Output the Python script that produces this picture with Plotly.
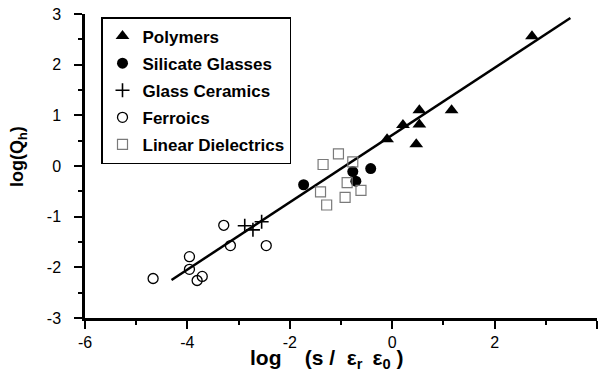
import plotly.graph_objects as go

# Data
poly_x = [0.53, 1.16, 0.21, 0.53, -0.10, 0.47, 2.73]
poly_y = [1.10, 1.10, 0.81, 0.82, 0.53, 0.43, 2.56]

silicate_x = [-1.73, -0.77, -0.71, -0.42]
silicate_y = [-0.37, -0.11, -0.30, -0.05]

ceramic_x = [-2.88, -2.72, -2.55]
ceramic_y = [-1.18, -1.26, -1.10]

ferro_x = [-3.29, -3.16, -2.46, -3.96, -3.96, -4.67, -3.71, -3.81]
ferro_y = [-1.17, -1.57, -1.57, -1.79, -2.04, -2.22, -2.18, -2.26]

lin_x = [-1.05, -1.35, -0.77, -0.88, -0.61, -1.40, -0.92, -1.28]
lin_y = [0.24, 0.03, 0.08, -0.33, -0.48, -0.51, -0.62, -0.77]

fit_x = [-4.31, 3.48]
fit_y = [-2.25, 2.92]

x_tickvals = [-6, -4, -2, 0, 2, 4]
x_ticktext = ["-6", "-4", "-2", "0", "2", "4"]
y_tickvals = [-3, -2, -1, 0, 1, 2, 3]
y_ticktext = ["-3", "-2", "-1", "0", "1", "2", "3"]

FONT = "Liberation Sans, Arial, sans-serif"

fig = go.Figure()
fig.add_trace(go.Scatter(x=fit_x, y=fit_y, mode="lines",
                         line=dict(color="black", width=2.5), showlegend=False))
fig.add_trace(go.Scatter(x=poly_x, y=poly_y, mode="markers", name="Polymers",
                         legendgroup="a",
                         marker=dict(symbol="triangle-up", size=12, color="black")))
fig.add_trace(go.Scatter(x=silicate_x, y=silicate_y, mode="markers", name="Silicate Glasses",
                         legendgroup="b",
                         marker=dict(symbol="circle", size=11, color="black")))
fig.add_trace(go.Scatter(x=ceramic_x, y=ceramic_y, mode="markers", name="Glass Ceramics",
                         legendgroup="c",
                         marker=dict(symbol="cross-thin-open", size=10, color="black",
                                     line=dict(width=1.6, color="black"))))
fig.add_trace(go.Scatter(x=ferro_x, y=ferro_y, mode="markers", name="Ferroics",
                         legendgroup="d",
                         marker=dict(symbol="circle-open", size=10, color="black",
                                     line=dict(width=1.3, color="black"))))
fig.add_trace(go.Scatter(x=lin_x, y=lin_y, mode="markers", name="Linear Dielectrics",
                         legendgroup="e",
                         marker=dict(symbol="square-open", size=10, color="#7a7a7a",
                                     line=dict(width=1.2, color="#7a7a7a"))))

axis_common = dict(showline=True, linewidth=2.5, linecolor="black", mirror=False,
                   ticks="outside", tickwidth=2, ticklen=8, tickcolor="black",
                   showgrid=False, zeroline=False,
                   tickfont=dict(family=FONT, size=16, color="black"))

fig.update_xaxes(range=[-6, 4], tickvals=x_tickvals, ticktext=x_ticktext,
                 minor=dict(dtick=1, tick0=-6, ticklen=4, tickwidth=2, tickcolor="black", ticks="outside"),
                 **axis_common)
fig.update_yaxes(range=[-3, 3], tickvals=y_tickvals, ticktext=y_ticktext,
                 ticklabelstandoff=10,
                 minor=dict(dtick=0.5, tick0=-3, ticklen=4, tickwidth=2, tickcolor="black", ticks="outside"),
                 **axis_common)

fig.add_annotation(xref="paper", yref="paper", x=(248 - 85) / 512, y=-(359 - 318) / 304,
                   text="<b>log    (s /  ε<sub>r </sub> ε<sub>0</sub> )</b>", showarrow=False,
                   font=dict(family=FONT, size=21, color="black"),
                   xanchor="left", yanchor="middle")
fig.add_annotation(xref="paper", yref="paper", x=-(85 - 18) / 512, y=(318 - 157) / 304,
                   text="<b>log(Q<sub>h</sub>)</b>", showarrow=False, textangle=-90,
                   font=dict(family=FONT, size=18, color="black"),
                   xanchor="center", yanchor="middle")

fig.update_layout(
    width=600, height=381,
    margin=dict(l=85, r=3, t=14, b=63),
    paper_bgcolor="white", plot_bgcolor="white",
    showlegend=True,
    legend=dict(x=(101 - 85) / 512, y=(318 - 17) / 304, xanchor="left", yanchor="top",
                bgcolor="white", bordercolor="black", borderwidth=1.5,
                font=dict(family=FONT, size=17, color="black", weight="bold"),
                tracegroupgap=2, itemsizing="trace"),
    font=dict(family=FONT, color="black"),
)

fig.write_html("out.html", post_script="document.body.style.margin='0';",
               config={"displayModeBar": False})
